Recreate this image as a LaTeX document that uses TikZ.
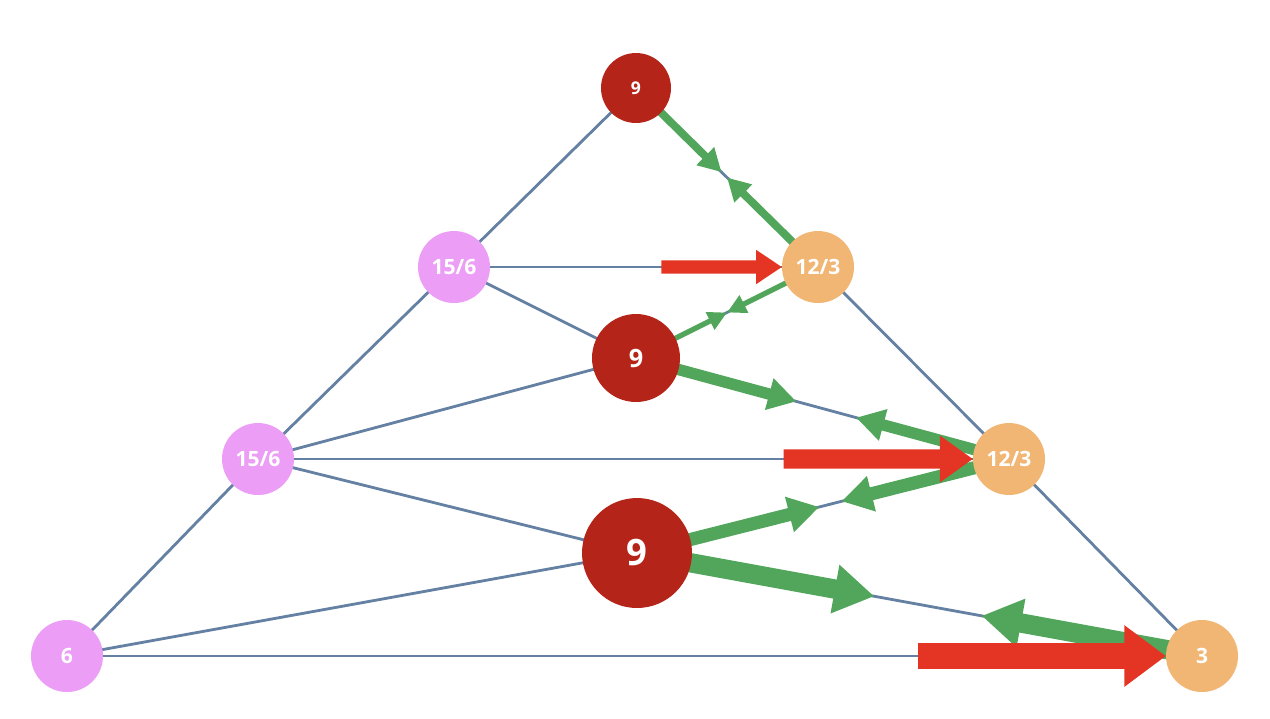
\documentclass[tikz,border=0pt]{standalone}
\usepackage{fontspec}
\setmainfont{Open Sans}
\usetikzlibrary{calc,arrows.meta}
\definecolor{edgeblue}{HTML}{6480A2}
\definecolor{flowgreen}{HTML}{52A65C}
\definecolor{pushred}{HTML}{E33424}
\definecolor{darkred}{HTML}{B52419}
\definecolor{pinkish}{HTML}{EC9DF5}
\definecolor{peach}{HTML}{F1B574}
\newcommand{\flow}[4]{\draw[green flow, line width=#3] (#1) -- ($(#1)!#4!(#2)$);}
\begin{document}
\begin{tikzpicture}[x=0.02cm, y=-0.02cm, thick,
  main/.style = {circle, inner sep=0pt, text=white, font=\bfseries},
  src/.style = {main, fill=darkred},
  lnode/.style = {main, fill=pinkish, minimum size=1.44cm, font=\bfseries\large},
  rnode/.style = {main, fill=peach, minimum size=1.44cm, font=\bfseries\large},
  edge/.style = {draw=edgeblue, line width=1.6pt},
  green flow/.style = {draw=flowgreen, -{Triangle[length=2.2mm 1.5, width=1.6mm 2]}},
  push/.style = {draw=pushred, -{Triangle[length=2mm 1.2, width=1.2mm 2]}}]
  \useasboundingbox (0,0) rectangle (1270,718);
  % edges first
  \coordinate (t9) at (636,88);
  \coordinate (m9) at (636,358);
  \coordinate (b9) at (637,553);
  \coordinate (p1) at (454,267);
  \coordinate (p2) at (258,459);
  \coordinate (p3) at (67,656);
  \coordinate (o1) at (818,267);
  \coordinate (o2) at (1009,459);
  \coordinate (o3) at (1202,656);
  \foreach \a/\b in {t9/p1, p1/p2, p2/p3, t9/o1, o1/o2, o2/o3, p1/o1, p2/o2, p3/o3,
                     p1/m9, m9/p2, p2/b9, b9/p3, m9/o1, m9/o2, b9/o2, b9/o3}
    \draw[edge] (\a) -- (\b);
  % flows
  \flow{t9}{o1}{4.5pt}{0.47}
  \flow{o1}{t9}{4.5pt}{0.50}
  \flow{m9}{o1}{3pt}{0.50}
  \flow{o1}{m9}{3pt}{0.50}
  \flow{m9}{o2}{6.5pt}{0.43}
  \flow{o2}{m9}{6.5pt}{0.41}
  \flow{b9}{o2}{7.5pt}{0.49}
  \flow{o2}{b9}{7.5pt}{0.45}
  \flow{b9}{o3}{11pt}{0.42}
  \flow{o3}{b9}{11pt}{0.39}
  % pushes
  \draw[push, line width=7.5pt] ($(p1)!0.57!(o1)$) -- ($(o1)+(-36,0)$);
  \draw[push, line width=11pt] ($(p2)!0.70!(o2)$) -- ($(o2)+(-36,0)$);
  \draw[push, line width=15pt] ($(p3)!0.75!(o3)$) -- ($(o3)+(-36,0)$);
  % nodes
  \node[src, minimum size=1.4cm] (n1) at (t9) {9};
  \node[src, minimum size=1.76cm, font=\bfseries\Large] (n2) at (m9) {9};
  \node[src, minimum size=2.2cm, font=\bfseries\huge] (n3) at (b9) {9};
  \node[lnode] (n4) at (p1) {15/6};
  \node[lnode] (n5) at (p2) {15/6};
  \node[lnode] (n6) at (p3) {6};
  \node[rnode] (n7) at (o1) {12/3};
  \node[rnode] (n8) at (o2) {12/3};
  \node[rnode] (n9) at (o3) {3};
\end{tikzpicture}
\end{document}
